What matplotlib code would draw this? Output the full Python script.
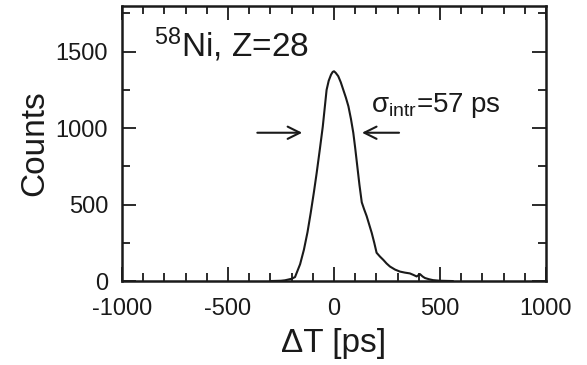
import numpy as np
import matplotlib
matplotlib.use('Agg')
import matplotlib.pyplot as plt
from matplotlib.ticker import MultipleLocator

plt.rcParams['font.family'] = ['Liberation Sans', 'DejaVu Sans']
plt.rcParams['mathtext.fontset'] = 'custom'
plt.rcParams['mathtext.rm'] = 'Liberation Sans'
plt.rcParams['mathtext.it'] = 'Liberation Sans:italic'
plt.rcParams['axes.unicode_minus'] = False

# time difference spectrum
dt = [-300, -250, -231, -200, -184, -160, -142, -125, -110, -95, -82, -67, -53, -44,
      -35, -25, -14, -6, 0, 8, 20, 32, 44, 56, 68, 80, 91, 100, 110, 120, 131, 142,
      154, 166, 178, 190, 201, 217, 233, 248, 264, 288, 311, 335, 358, 375, 390,
      398, 406, 418, 429, 448, 467, 500, 560]
counts = [0, 2, 5, 15, 26, 110, 205, 320, 445, 580, 705, 860, 1010, 1130,
          1250, 1310, 1350, 1368, 1372, 1362, 1340, 1300, 1250, 1200, 1143, 1060, 970,
          870, 750, 630, 515, 470, 425, 370, 315, 250, 185, 160, 138, 115, 95, 75, 62,
          55, 50, 40, 30, 38, 45, 30, 20, 12, 6, 2, 0]

label_ni = r'$\mathregular{^{58}}$Ni, Z=28'
label_sigma = r'$\mathregular{σ_{intr}}$=57 ps'

ink = '#1a1a1a'

fig = plt.figure(figsize=(5.87, 3.65), dpi=100)
ax = fig.add_axes([0.208, 0.230, 0.722, 0.754])

ax.plot(dt, counts, color=ink, lw=1.5)

# arrows marking the width
ax.annotate('', xy=(-137, 970), xytext=(-375, 970),
            arrowprops=dict(arrowstyle='->', color=ink, lw=1.5, mutation_scale=22))
ax.annotate('', xy=(119, 970), xytext=(320, 970),
            arrowprops=dict(arrowstyle='->', color=ink, lw=1.5, mutation_scale=22))

ax.text(-848, 1470, label_ni, fontsize=24, color=ink)
ax.text(175, 1108, label_sigma, fontsize=20, color=ink)

ax.set_xlim(-1000, 1000)
ax.set_ylim(0, 1800)
ax.xaxis.set_major_locator(MultipleLocator(500))
ax.xaxis.set_minor_locator(MultipleLocator(100))
ax.yaxis.set_major_locator(MultipleLocator(500))
ax.yaxis.set_minor_locator(MultipleLocator(250))

ax.tick_params(which='both', direction='in', top=True, right=True,
               color=ink, labelcolor=ink, labelsize=17, width=1.3)
ax.tick_params(which='major', length=10)
ax.tick_params(which='minor', length=6)
ax.tick_params(axis='x', which='major', pad=12)
ax.tick_params(axis='y', which='major', pad=10)
for s in ax.spines.values():
    s.set_linewidth(1.8)
    s.set_color(ink)

ax.set_xlabel(r'ΔT [ps]', fontsize=24, color=ink, labelpad=6)
ax.set_ylabel('Counts', fontsize=24, color=ink, labelpad=4)

fig.savefig('out.png', dpi=100)
